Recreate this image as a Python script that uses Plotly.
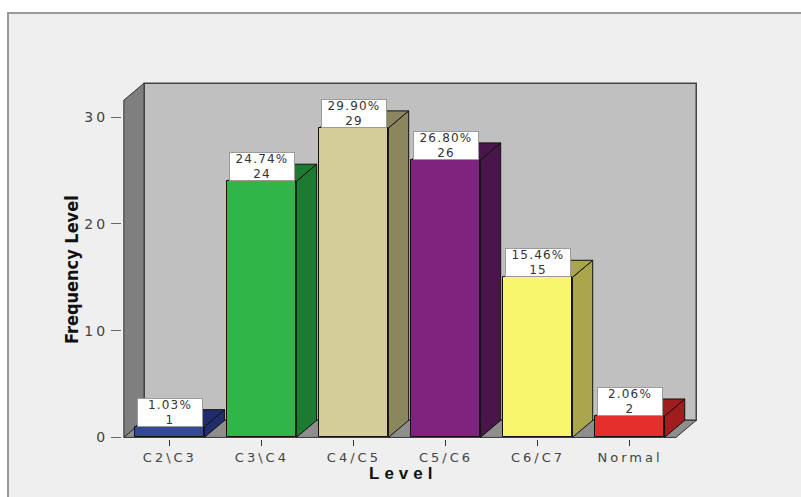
import plotly.graph_objects as go

# Spinal level frequencies
levels = ["C2\\C3", "C3\\C4", "C4/C5", "C5/C6", "C6/C7", "Normal"]
counts = [1, 24, 29, 26, 15, 2]
front_colors = ["#34499c", "#2fb548", "#d4cd97", "#7e237e", "#f9f66e", "#e52e2e"]
side_colors = ["#1f2d6b", "#1e7a30", "#8b8660", "#4a154a", "#aaa64c", "#a11d1d"]
y_ticks = [0, 10, 20, 30]

total = sum(counts)
pcts = [c / total * 100 for c in counts]

# pseudo-3D depth offsets (data units)
DX, DY = 0.22, 1.6
BAR_W = 0.75
X0, X1 = -0.5, len(levels) - 0.5
YTOP = 31.6

W, H = 801, 497
ML, MR, MT, MB = 122, 102, 81, 58
xr = [X0 - 0.02, X1 + DX + 0.03]
yr = [-0.15, YTOP + DY + 0.2]
pw, ph = W - ML - MR, H - MT - MB


def px_x(p):
    return (p - ML) / pw


def px_y(p):
    return (H - MB - p) / ph


shapes = []
# outer panel
shapes.append(dict(type="rect", xref="paper", yref="paper",
                   x0=px_x(8), x1=px_x(W + 5), y0=px_y(H + 5), y1=px_y(13),
                   fillcolor="#efefef", line=dict(color="#9a9a9a", width=2),
                   layer="below"))
# back wall
shapes.append(dict(type="rect", xref="x", yref="y",
                   x0=X0 + DX, x1=X1 + DX, y0=DY, y1=YTOP + DY,
                   fillcolor="#c0c0c0", line=dict(color="#444444", width=1.5),
                   layer="below"))
# left wall
shapes.append(dict(type="path", xref="x", yref="y",
                   path=f"M{X0},0 L{X0},{YTOP} L{X0+DX},{YTOP+DY} L{X0+DX},{DY} Z",
                   fillcolor="#7f7f7f", line=dict(color="#333333", width=1),
                   layer="below"))
# floor
shapes.append(dict(type="path", xref="x", yref="y",
                   path=f"M{X0},0 L{X1},0 L{X1+DX},{DY} L{X0+DX},{DY} Z",
                   fillcolor="#8e8e8e", line=dict(color="#333333", width=1),
                   layer="below"))

# side and top faces of each bar
for i, (v, sc) in enumerate(zip(counts, side_colors)):
    xl, xrr = i - BAR_W / 2, i + BAR_W / 2
    shapes.append(dict(type="path", xref="x", yref="y",
                       path=f"M{xrr},0 L{xrr},{v} L{xrr+DX},{v+DY} L{xrr+DX},{DY} Z",
                       fillcolor=sc, line=dict(color="#111111", width=1),
                       layer="below"))
    shapes.append(dict(type="path", xref="x", yref="y",
                       path=f"M{xl},{v} L{xrr},{v} L{xrr+DX},{v+DY} L{xl+DX},{v+DY} Z",
                       fillcolor=sc, line=dict(color="#111111", width=1),
                       layer="below"))

fig = go.Figure()
fig.add_trace(go.Bar(
    x=list(range(len(levels))), y=counts, width=BAR_W,
    marker=dict(color=front_colors, line=dict(color="#111111", width=1)),
    hoverinfo="skip", showlegend=False,
))

annotations = []
for i, (v, p) in enumerate(zip(counts, pcts)):
    annotations.append(dict(
        x=i, y=v, xref="x", yref="y", yanchor="bottom", xanchor="center",
        text=f"<span style='letter-spacing:1.2px'>{p:.2f}%<br>{v}</span>",
        showarrow=False,
        bgcolor="white", bordercolor="#9a9a9a", borderwidth=1, borderpad=0,
        width=64, height=27,
        font=dict(family="DejaVu Sans", size=12, color="#333333"),
    ))

annotations.append(dict(
    x=px_x(71), y=px_y(270), xref="paper", yref="paper",
    xanchor="center", yanchor="middle",
    text="<b>Frequency Level</b>", textangle=-90, showarrow=False,
    font=dict(family="DejaVu Sans Condensed, DejaVu Sans", size=18, color="#111111"),
))
annotations.append(dict(
    x=px_x(403), y=px_y(473), xref="paper", yref="paper",
    xanchor="center", yanchor="middle",
    text="<b><span style='letter-spacing:5px'>Level</span></b>", showarrow=False,
    font=dict(family="Liberation Sans, Arial", size=17, color="#111111"),
))

fig.update_layout(
    width=W, height=H,
    margin=dict(l=ML, r=MR, t=MT, b=MB, pad=0),
    paper_bgcolor="white", plot_bgcolor="rgba(0,0,0,0)",
    shapes=shapes, annotations=annotations,
    bargap=0,
    xaxis=dict(range=xr, tickmode="array", tickvals=list(range(len(levels))),
               ticktext=[f"<span style='letter-spacing:3px'>{t}</span>" for t in levels],
               ticks="outside", ticklen=6, tickcolor="#333333", tickwidth=1,
               showgrid=False, zeroline=False, showline=False,
               tickfont=dict(family="DejaVu Sans", size=13, color="#444444")),
    yaxis=dict(range=yr, tickmode="array", tickvals=y_ticks,
               ticktext=[f"<span style='letter-spacing:3px'>{t}</span>" for t in y_ticks],
               ticks="outside", ticklen=10, tickcolor="#666666", tickwidth=1,
               showgrid=False, zeroline=False, showline=False,
               tickfont=dict(family="DejaVu Sans", size=14, color="#444444")),
)

fig.write_html("out.html")
